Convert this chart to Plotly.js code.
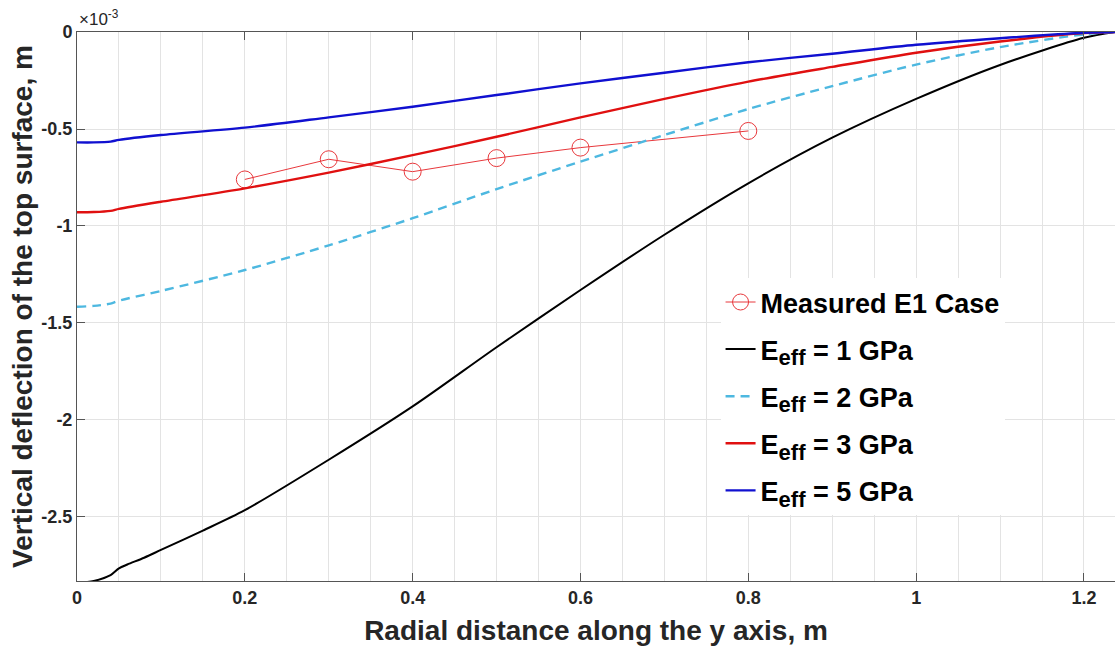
<!DOCTYPE html>
<html>
<head>
<meta charset="utf-8">
<script src="https://cdn.plot.ly/plotly-3.0.1.min.js"></script>
<style>html,body{margin:0;padding:0;background:#fff;}#plot{width:1115px;height:646px;}</style>
</head>
<body>
<div id="plot"></div>
<script>
// values in units of 1e-3 m
const xE1 = [0, 0.02, 0.04, 0.05, 0.06, 0.08, 0.1, 0.15, 0.2, 0.3, 0.4, 0.5, 0.6, 0.7, 0.8, 0.9, 1.0, 1.1, 1.2, 1.237];
const yE1 = [-2.84, -2.83, -2.80, -2.765, -2.745, -2.71, -2.67, -2.57, -2.465, -2.205, -1.93, -1.625, -1.33, -1.045, -0.78, -0.545, -0.345, -0.17, -0.03, 0];

const xE2 = [0, 0.02, 0.04, 0.05, 0.1, 0.2, 0.3, 0.4, 0.5, 0.6, 0.7, 0.8, 0.9, 1.0, 1.1, 1.2, 1.237];
const yE2 = [-1.416, -1.412, -1.40, -1.385, -1.335, -1.227, -1.10, -0.96, -0.81, -0.668, -0.531, -0.397, -0.279, -0.168, -0.078, -0.012, 0];

const xE3 = [0, 0.02, 0.04, 0.05, 0.1, 0.2, 0.3, 0.4, 0.5, 0.6, 0.7, 0.8, 0.9, 1.0, 1.1, 1.2, 1.237];
const yE3 = [-0.929, -0.928, -0.922, -0.912, -0.875, -0.806, -0.725, -0.635, -0.54, -0.44, -0.345, -0.256, -0.18, -0.107, -0.049, -0.006, 0];

const xE5 = [0, 0.02, 0.04, 0.05, 0.1, 0.2, 0.3, 0.4, 0.5, 0.6, 0.7, 0.8, 0.9, 1.0, 1.1, 1.2, 1.237];
const yE5 = [-0.569, -0.569, -0.565, -0.556, -0.531, -0.493, -0.44, -0.385, -0.325, -0.265, -0.21, -0.156, -0.112, -0.066, -0.032, -0.004, 0];

const xMeas = [0.2, 0.3, 0.4, 0.5, 0.6, 0.8];
const yMeas = [-0.76, -0.656, -0.72, -0.65, -0.596, -0.51];

const yTickVals = [0, -0.5, -1, -1.5, -2, -2.5];
const yTickText = ['0', '-0.5', '-1', '-1.5', '-2', '-2.5'];
const xTickVals = [0, 0.2, 0.4, 0.6, 0.8, 1, 1.2];
const xTickText = ['0', '0.2', '0.4', '0.6', '0.8', '1', '1.2'];
const xGridStep = 0.05;

// grid positions every 0.05 (labels only at the major ticks)
const xGridVals = [];
const xGridText = [];
for (let i = 0; i * xGridStep <= 1.2371; i++) {
  const v = Math.round(i * xGridStep * 100) / 100;
  xGridVals.push(v);
  const k = xTickVals.findIndex(t => Math.abs(t - v) < 1e-9);
  xGridText.push(k >= 0 ? '<b>' + xTickText[k] + '</b>' : '');
}

const bold = a => a.map(s => '<b>' + s + '</b>');
const effName = g => 'E<sub><span style="font-size:22px">eff</span></sub> = ' + g + ' GPa';

const traces = [
  {x: xMeas, y: yMeas, name: 'Measured E1 Case', mode: 'lines+markers', legendgroup: 'a',
   line: {color: '#e8383c', width: 1},
   marker: {symbol: 'circle-open', size: 17, color: '#e8383c', line: {width: 1}}},
  {x: xE1, y: yE1, name: effName(1), mode: 'lines', legendgroup: 'b',
   line: {color: '#000000', width: 2, shape: 'spline', smoothing: 0.8}},
  {x: xE2, y: yE2, name: effName(2), mode: 'lines', legendgroup: 'c',
   line: {color: '#4db8e0', width: 2.4, dash: '9px,6px', shape: 'spline', smoothing: 0.8}},
  {x: xE3, y: yE3, name: effName(3), mode: 'lines', legendgroup: 'd',
   line: {color: '#e01010', width: 2.4, shape: 'spline', smoothing: 0.8}},
  {x: xE5, y: yE5, name: effName(5), mode: 'lines', legendgroup: 'e',
   line: {color: '#1010d0', width: 2.4, shape: 'spline', smoothing: 0.8}},
  // empty trace binding the tick-mark overlay axis
  {x: [], y: [], xaxis: 'x2', yaxis: 'y', showlegend: false, hoverinfo: 'skip'}
];

const tickFont = {family: 'Liberation Sans, Arial, sans-serif', size: 18, weight: 'bold', color: '#262626'};

const layout = {
  width: 1115, height: 646,
  margin: {l: 77, r: 0, t: 32, b: 65},
  paper_bgcolor: '#ffffff', plot_bgcolor: '#ffffff',
  font: {family: 'Liberation Sans, Arial, sans-serif', color: '#262626'},
  showlegend: true,
  legend: {
    x: 0.62, y: 0.552, xanchor: 'left', yanchor: 'top',
    bgcolor: '#ffffff', borderwidth: 0,
    font: {size: 27, weight: 'bold', color: '#000000'},
    itemwidth: 30, tracegroupgap: 9
  },
  xaxis: {
    range: [0, 1.237],
    tickmode: 'array', tickvals: xGridVals, ticktext: xGridText,
    tickfont: tickFont,
    ticks: '',
    showline: true, linecolor: '#555', linewidth: 1, mirror: true,
    showgrid: true, gridcolor: '#e3e3e3', gridwidth: 1,
    zeroline: false,
    title: {text: '<b>Radial distance along the y axis, m</b>', font: {size: 28, weight: 'bold', color: '#262626'}, standoff: 14}
  },
  xaxis2: {
    overlaying: 'x', matches: 'x', anchor: 'y', side: 'bottom',
    range: [0, 1.237],
    tickmode: 'array', tickvals: xTickVals,
    showticklabels: false, showgrid: false, zeroline: false, showline: false,
    ticks: 'inside', ticklen: 8, tickcolor: '#555', mirror: 'ticks'
  },
  yaxis: {
    range: [-2.83, 0],
    tickmode: 'array', tickvals: yTickVals, ticktext: bold(yTickText),
    tickfont: tickFont,
    ticks: 'inside', ticklen: 8, tickcolor: '#555',
    showline: true, linecolor: '#555', linewidth: 1, mirror: true,
    showgrid: true, gridcolor: '#e3e3e3', gridwidth: 1,
    zeroline: false,
    title: {text: '<b>Vertical deflection of the top surface, m</b>', font: {size: 28, weight: 'bold', color: '#262626'}, standoff: 0}
  },
  annotations: [{
    xref: 'paper', yref: 'paper', x: 0, y: 1, xanchor: 'left', yanchor: 'bottom',
    text: '×10<sup>-3</sup>', showarrow: false, yshift: 1,
    font: {size: 17, color: '#262626'}
  }]
};

Plotly.newPlot('plot', traces, layout, {displayModeBar: false, staticPlot: true});
</script>
</body>
</html>
